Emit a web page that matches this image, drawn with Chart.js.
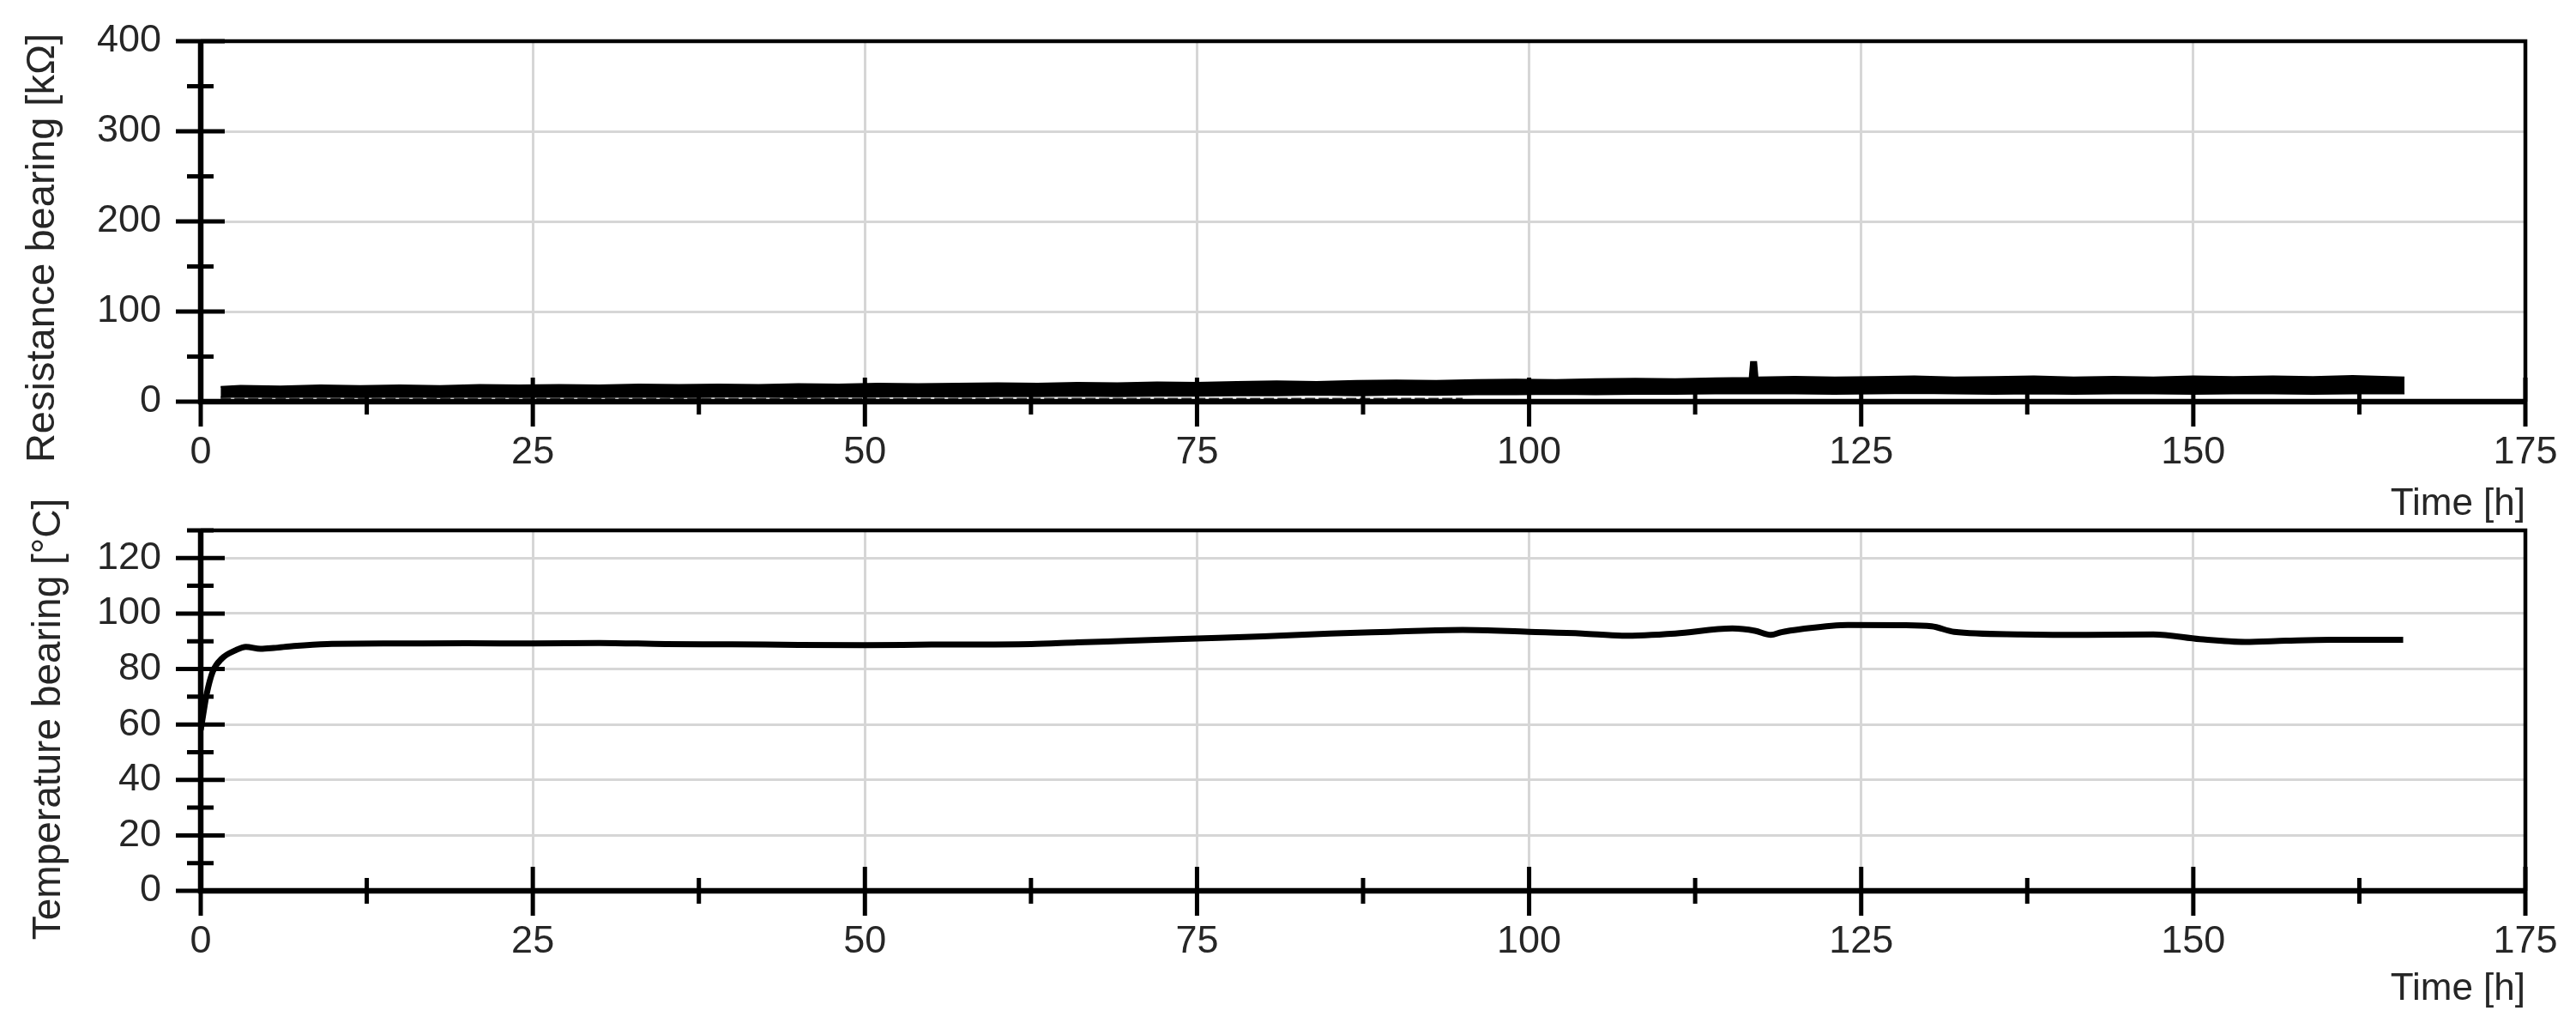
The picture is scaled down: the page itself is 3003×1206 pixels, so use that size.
<!DOCTYPE html>
<html>
<head>
<meta charset="utf-8">
<script src="https://cdn.jsdelivr.net/npm/chart.js@4.4.1/dist/chart.umd.min.js"></script>
<style>
    html, body { margin: 0; padding: 0; background: #fff; }
    body { width: 3003px; height: 1206px; position: relative; overflow: hidden; }
    canvas { position: absolute; left: 0; }
    #resChart { top: 0; }
    #tempChart { top: 560px; }
</style>
</head>
<body>
<canvas id="resChart" width="3003" height="640"></canvas>
<canvas id="tempChart" width="3003" height="646"></canvas>
<script>
// Time axis (shared by both plots)
const xTicks = [0, 25, 50, 75, 100, 125, 150, 175];
const xMinorTicks = [12.5, 37.5, 62.5, 87.5, 112.5, 137.5, 162.5];

// Y tick values
const resTicks = [0, 100, 200, 300, 400];
const resMinorTicks = [50, 150, 250, 350];
const tempTicks = [0, 20, 40, 60, 80, 100, 120];
const tempMinorTicks = [10, 30, 50, 70, 90, 110, 130];

// Resistance trace is a noisy band -> keep its upper and lower edge [kOhm]
const resTime = [1.5, 3, 6, 9, 12, 15, 18, 21, 24, 27,
    30, 33, 36, 39, 42, 45, 48, 51, 54, 57,
    60, 63, 66, 69, 72, 75, 78, 81, 84, 87,
    90, 93, 96, 99, 102, 105, 108, 111, 114, 116.6,
    116.7, 117.1, 117.2, 120, 123, 126, 129, 132, 135, 138,
    141, 144, 147, 150, 153, 156, 159, 162, 165.9];
const resUpper = [16.5, 17.5, 17, 18, 17.5, 18, 17.5, 18.5, 18, 18.5,
    18, 19, 18.5, 19, 18.5, 19.5, 19, 20, 19.5, 20,
    20.5, 20, 21, 20.5, 21.5, 21, 22, 22.5, 22, 23,
    23.5, 23, 24, 24.5, 24, 25, 25.5, 25, 26, 26.5,
    44, 44, 27, 27.5, 27, 27.5, 28, 27, 27.5, 28,
    27, 27.5, 27, 28, 27.5, 28, 27.5, 28.5, 27];
const resLower = [5, 5.5, 5, 5.5, 5, 5.5, 5, 5.5, 5, 5.5,
    5, 5.5, 5, 5.5, 5.5, 5, 5.5, 5.5, 6, 5.5,
    6, 6, 6.5, 6, 6.5, 6.5, 7, 7, 7.5, 7,
    7.5, 7.5, 8, 8, 8.5, 8, 8.5, 8.5, 9, 9,
    9, 9, 9, 9, 8.5, 9, 9.5, 9, 8.5, 9,
    8.5, 9, 9, 8.5, 9, 9, 8.5, 9, 9];
// row of low readings just above the axis
const resLowTime = [1.5, 95];
const resLowValue = [3.2, 3.2];

// Bearing temperature [°C]
const tempTime = [0, 0.2, 0.45, 0.9, 1.6, 2.6, 3.4, 4.5, 5.5, 7,
    9.5, 15, 20, 25, 30, 35, 40, 45, 50, 55,
    62.5, 66, 70, 75, 80, 85, 89.5, 95, 100, 104,
    107, 111, 115.3, 117, 118.2, 119, 120.5, 124, 128, 130.3,
    132, 137, 142, 147, 150.5, 153.9, 157, 160.3, 165.8];
const tempValue = [58, 64, 71, 79, 83.8, 86.7, 88, 87.3, 87.6, 88.3,
    89, 89.2, 89.3, 89.2, 89.4, 89, 88.9, 88.7, 88.6, 88.8,
    89, 89.6, 90.2, 91, 91.8, 92.8, 93.4, 94.1, 93.4, 92.8,
    92, 92.8, 94.6, 93.8, 92.3, 93.3, 94.4, 95.9, 95.8, 95.4,
    93.4, 92.5, 92.3, 92.5, 90.8, 89.8, 90.2, 90.5, 90.5];

const FONT = "'Liberation Sans', Arial, sans-serif";
const TEXT_COLOR = '#262626';
const GRID_COLOR = '#d6d6d6';

Chart.defaults.font.family = FONT;
Chart.defaults.color = TEXT_COLOR;

const toPoints = (xs, ys) => xs.map((x, i) => ({ x: x, y: ys[i] }));

// Frame, crossing tick marks and the rotated y title
const axisFrame = {
    id: 'axisFrame',
    afterDatasetsDraw(chart, args, opts) {
        const { ctx, chartArea: a } = chart;
        const xs = chart.scales.x;
        const ys = chart.scales.y;
        ctx.save();
        ctx.strokeStyle = '#000';

        // top and right border
        ctx.lineWidth = 4.5;
        ctx.beginPath();
        ctx.moveTo(a.left, a.top);
        ctx.lineTo(a.right, a.top);
        ctx.lineTo(a.right, a.bottom);
        ctx.stroke();

        // left and bottom axis
        ctx.lineWidth = 6.5;
        ctx.beginPath();
        ctx.moveTo(a.left, a.top - 2);
        ctx.lineTo(a.left, a.bottom);
        ctx.lineTo(a.right + 2, a.bottom);
        ctx.stroke();

        // ticks
        ctx.lineWidth = 5;
        ctx.beginPath();
        opts.yMajor.forEach(v => {
            const p = ys.getPixelForValue(v);
            ctx.moveTo(a.left - 29, p);
            ctx.lineTo(a.left + 28, p);
        });
        opts.yMinor.forEach(v => {
            const p = ys.getPixelForValue(v);
            ctx.moveTo(a.left - 16, p);
            ctx.lineTo(a.left + 15, p);
        });
        xTicks.forEach(v => {
            const p = xs.getPixelForValue(v);
            ctx.moveTo(p, a.bottom - 28);
            ctx.lineTo(p, a.bottom + 29);
        });
        xMinorTicks.forEach(v => {
            const p = xs.getPixelForValue(v);
            ctx.moveTo(p, a.bottom - 15);
            ctx.lineTo(p, a.bottom + 15);
        });
        ctx.stroke();

        // y axis title
        ctx.fillStyle = TEXT_COLOR;
        ctx.font = opts.titleSize + 'px ' + FONT;
        ctx.translate(opts.titleX, opts.titleY);
        ctx.rotate(-Math.PI / 2);
        ctx.textAlign = 'center';
        ctx.textBaseline = 'middle';
        ctx.fillText(opts.title, 0, 0);
        ctx.restore();
    }
};

function makeOptions(cfg) {
    return {
        responsive: false,
        animation: false,
        layout: { padding: { top: cfg.padTop, right: 59, left: 0, bottom: 0 } },
        plugins: {
            legend: { display: false },
            tooltip: { enabled: false },
            axisFrame: cfg.frame
        },
        scales: {
            x: {
                type: 'linear',
                min: 0,
                max: 175,
                afterBuildTicks: s => { s.ticks = xTicks.map(v => ({ value: v })); },
                afterFit: s => {
                    s.height = cfg.xHeight;
                    // keep the label overhang out of the layout, padding is fixed above
                    s.paddingLeft = 0;
                    s.paddingRight = 0;
                },
                grid: { color: GRID_COLOR, lineWidth: 3, drawTicks: false },
                border: { display: false },
                ticks: { padding: 33, font: { size: 45 }, color: TEXT_COLOR, maxRotation: 0, autoSkip: false },
                title: {
                    display: true,
                    text: 'Time [h]',
                    align: 'end',
                    font: { size: 44 },
                    color: TEXT_COLOR,
                    padding: { top: 0, bottom: cfg.titlePad }
                }
            },
            y: {
                type: 'linear',
                min: cfg.yMin,
                max: cfg.yMax,
                afterBuildTicks: s => { s.ticks = cfg.yTicks.map(v => ({ value: v })); },
                afterFit: s => {
                    s.width = 234;
                    s.paddingTop = 0;
                    s.paddingBottom = 0;
                },
                grid: { color: GRID_COLOR, lineWidth: 3, drawTicks: false },
                border: { display: false },
                ticks: { padding: 46, font: { size: 45 }, color: TEXT_COLOR, autoSkip: false }
            }
        }
    };
}

new Chart(document.getElementById('resChart'), {
    type: 'line',
    data: {
        datasets: [
            {
                data: toPoints(resTime, resLower),
                borderColor: '#000',
                borderWidth: 2,
                pointRadius: 0,
                tension: 0,
                fill: false
            },
            {
                data: toPoints(resTime, resUpper),
                borderColor: '#000',
                backgroundColor: '#000',
                borderWidth: 2,
                pointRadius: 0,
                tension: 0,
                fill: '-1'
            },
            {
                data: toPoints(resLowTime, resLowValue),
                borderColor: '#333',
                borderWidth: 2.5,
                borderDash: [12, 4],
                pointRadius: 0,
                fill: false
            }
        ]
    },
    options: makeOptions({
        padTop: 48,
        xHeight: 172,
        titlePad: 26,
        yMin: 0,
        yMax: 400,
        yTicks: resTicks,
        frame: {
            yMajor: resTicks,
            yMinor: resMinorTicks,
            title: 'Resistance bearing [kΩ]',
            titleSize: 47,
            titleX: 50,
            titleY: 289
        }
    }),
    plugins: [axisFrame]
});

new Chart(document.getElementById('tempChart'), {
    type: 'line',
    data: {
        datasets: [{
            data: toPoints(tempTime, tempValue),
            borderColor: '#000',
            borderWidth: 7,
            pointRadius: 0,
            cubicInterpolationMode: 'monotone',
            fill: false
        }]
    },
    options: makeOptions({
        padTop: 58,
        xHeight: 168,
        titlePad: 27,
        yMin: 0,
        yMax: 130,
        yTicks: tempTicks,
        frame: {
            yMajor: tempTicks,
            yMinor: tempMinorTicks,
            title: 'Temperature bearing [°C]',
            titleSize: 46,
            titleX: 57,
            titleY: 278
        }
    }),
    plugins: [axisFrame]
});
</script>
</body>
</html>
